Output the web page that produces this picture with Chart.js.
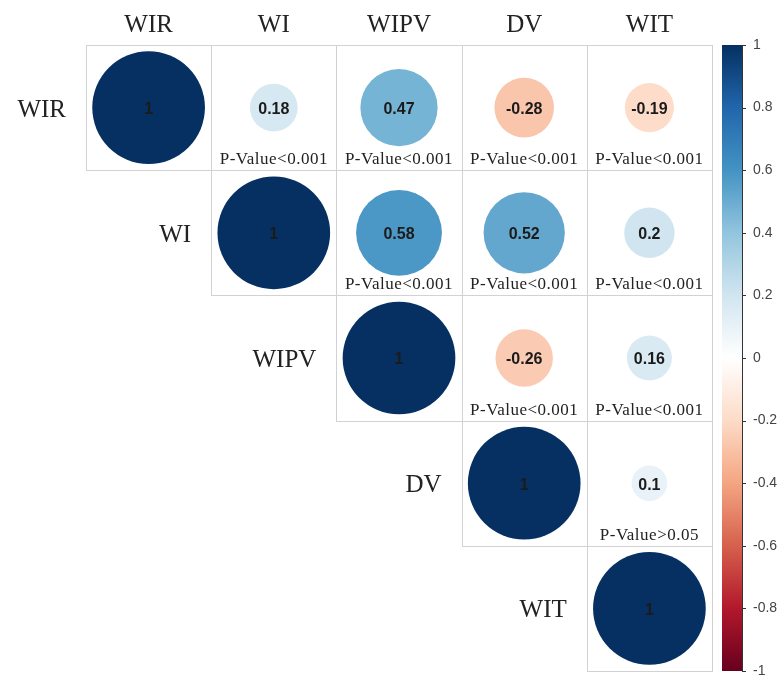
<!DOCTYPE html>
<html>
<head>
<meta charset="utf-8">
<script src="https://cdn.jsdelivr.net/npm/chart.js"></script>
<style>
  body { margin: 0; background: #fff; }
</style>
</head>
<body>
<canvas id="corr" width="777" height="681"></canvas>
<script>
var vars = ['WIR', 'WI', 'WIPV', 'DV', 'WIT'];

// upper triangle, each row starts at the diagonal
var rWIR = [1, 0.18, 0.47, -0.28, -0.19];
var rWI = [1, 0.58, 0.52, 0.2];
var rWIPV = [1, -0.26, 0.16];
var rDV = [1, 0.1];
var rWIT = [1];

var pWIR = ['', 'P-Value<0.001', 'P-Value<0.001', 'P-Value<0.001', 'P-Value<0.001'];
var pWI = ['', 'P-Value<0.001', 'P-Value<0.001', 'P-Value<0.001'];
var pWIPV = ['', 'P-Value<0.001', 'P-Value<0.001'];
var pDV = ['', 'P-Value>0.05'];
var pWIT = [''];

var cbTicks = [1, 0.8, 0.6, 0.4, 0.2, 0, -0.2, -0.4, -0.6, -0.8, -1];

// RdBu, from -1 to 1
var palette = ['#67001F', '#B2182B', '#D6604D', '#F4A582', '#FDDBC7', '#FFFFFF',
               '#D1E5F0', '#92C5DE', '#4393C3', '#2166AC', '#053061'];

var rows = [rWIR, rWI, rWIPV, rDV, rWIT];
var pvals = [pWIR, pWI, pWIPV, pDV, pWIT];

var points = [];
rows.forEach(function(row, i) {
    row.forEach(function(v, k) {
        points.push({ x: i + k + 0.5, y: i + 0.5, v: v, p: pvals[i][k], row: i });
    });
});

function hexToRgb(h) {
    return [parseInt(h.substr(1, 2), 16), parseInt(h.substr(3, 2), 16), parseInt(h.substr(5, 2), 16)];
}

function colorFor(v) {
    var t = (v + 1) / 2 * (palette.length - 1);
    var i = Math.min(palette.length - 2, Math.floor(t));
    var f = t - i;
    var a = hexToRgb(palette[i]), b = hexToRgb(palette[i + 1]);
    var c = a.map(function(ch, n) { return Math.round(ch + (b[n] - ch) * f); });
    return 'rgb(' + c.join(',') + ')';
}

function radiusFor(c) {
    var s = c.chart.scales.x;
    var unit = s.getPixelForValue(1) - s.getPixelForValue(0);
    return Math.sqrt(Math.abs(c.raw.v)) * 0.45 * unit;
}

var corrPlugin = {
    id: 'corr',
    beforeDatasetsDraw: function(chart) {
        var ctx = chart.ctx, x = chart.scales.x, y = chart.scales.y, cb = chart.scales.cb;
        ctx.save();

        // cell borders
        ctx.strokeStyle = '#d2d2d2';
        ctx.lineWidth = 1;
        for (var i = 0; i < vars.length; i++) {
            for (var j = i; j < vars.length; j++) {
                var l = Math.round(x.getPixelForValue(j)) + 0.5;
                var r = Math.round(x.getPixelForValue(j + 1)) + 0.5;
                var t = Math.round(y.getPixelForValue(i)) + 0.5;
                var b = Math.round(y.getPixelForValue(i + 1)) + 0.5;
                ctx.strokeRect(l, t, r - l, b - t);
            }
        }

        // row names next to the diagonal
        ctx.font = '25px "Liberation Serif"';
        ctx.fillStyle = '#222';
        ctx.textAlign = 'right';
        ctx.textBaseline = 'alphabetic';
        vars.forEach(function(name, i) {
            ctx.fillText(name, x.getPixelForValue(i) - 20, y.getPixelForValue(i + 0.5) + 9);
        });

        // colour bar
        var top = cb.getPixelForValue(1), bot = cb.getPixelForValue(-1);
        var x0 = cb.left + 10, w = 20;
        var grad = ctx.createLinearGradient(0, bot, 0, top);
        palette.forEach(function(col, n) { grad.addColorStop(n / (palette.length - 1), col); });
        ctx.fillStyle = grad;
        ctx.fillRect(x0, top, w, bot - top);
        ctx.strokeStyle = '#333';
        ctx.beginPath();
        ctx.moveTo(x0 + w + 0.5, top);
        ctx.lineTo(x0 + w + 0.5, bot);
        cbTicks.forEach(function(v) {
            var py = Math.round(cb.getPixelForValue(v)) + 0.5;
            ctx.moveTo(x0 + w, py);
            ctx.lineTo(x0 + w + 4, py);
        });
        ctx.stroke();
        ctx.restore();
    },
    afterDatasetsDraw: function(chart) {
        var ctx = chart.ctx, y = chart.scales.y;
        var meta = chart.getDatasetMeta(0);
        ctx.save();
        ctx.textAlign = 'center';
        meta.data.forEach(function(pt, k) {
            var d = points[k];
            ctx.font = 'bold 16px "Liberation Sans"';
            ctx.fillStyle = '#1b1b1b';
            ctx.textBaseline = 'middle';
            ctx.fillText(String(d.v), pt.x, pt.y + 2);
            if (d.p) {
                ctx.font = '17px "Liberation Serif"';
                ctx.letterSpacing = '0.5px';
                ctx.fillStyle = '#222';
                ctx.textBaseline = 'alphabetic';
                ctx.fillText(d.p, pt.x, y.getPixelForValue(d.row + 1) - 6);
                ctx.letterSpacing = '0px';
            }
        });
        ctx.restore();
    }
};

var ctx = document.getElementById('corr').getContext('2d');
var myChart = new Chart(ctx, {
    type: 'scatter',
    data: {
        datasets: [{
            data: points,
            pointRadius: radiusFor,
            pointHoverRadius: radiusFor,
            pointBackgroundColor: function(c) { return colorFor(c.raw.v); },
            pointBorderWidth: 0,
            pointHoverBorderWidth: 0
        }]
    },
    options: {
        responsive: false,
        animation: false,
        events: [],
        layout: { padding: { left: 86, right: 0, top: 0, bottom: 10 } },
        plugins: {
            legend: { display: false },
            tooltip: { enabled: false }
        },
        scales: {
            x: {
                type: 'linear',
                position: 'top',
                min: 0,
                max: 5,
                grid: { display: false, drawTicks: false },
                border: { display: false },
                afterBuildTicks: function(s) {
                    s.ticks = vars.map(function(_, i) { return { value: i + 0.5 }; });
                },
                afterFit: function(s) {
                    s.height = 45;
                    s.paddingLeft = 0;
                    s.paddingRight = 0;
                },
                ticks: {
                    autoSkip: false,
                    maxRotation: 0,
                    padding: 5,
                    color: '#222',
                    font: { family: 'Liberation Serif', size: 25 },
                    callback: function(v, i) { return vars[i]; }
                }
            },
            y: {
                type: 'linear',
                min: 0,
                max: 5,
                reverse: true,
                display: false
            },
            cb: {
                type: 'linear',
                position: 'right',
                min: -1,
                max: 1,
                grid: { display: false, drawTicks: false },
                border: { display: false },
                afterBuildTicks: function(s) {
                    s.ticks = cbTicks.map(function(v) { return { value: v }; });
                },
                afterFit: function(s) {
                    s.width = 65;
                    s.paddingTop = 0;
                    s.paddingBottom = 0;
                },
                ticks: {
                    autoSkip: false,
                    padding: 41,
                    color: '#444',
                    font: { family: 'Liberation Sans', size: 14 },
                    callback: function(v) { return String(+v.toFixed(1)); }
                }
            }
        }
    },
    plugins: [corrPlugin]
});
</script>
</body>
</html>
